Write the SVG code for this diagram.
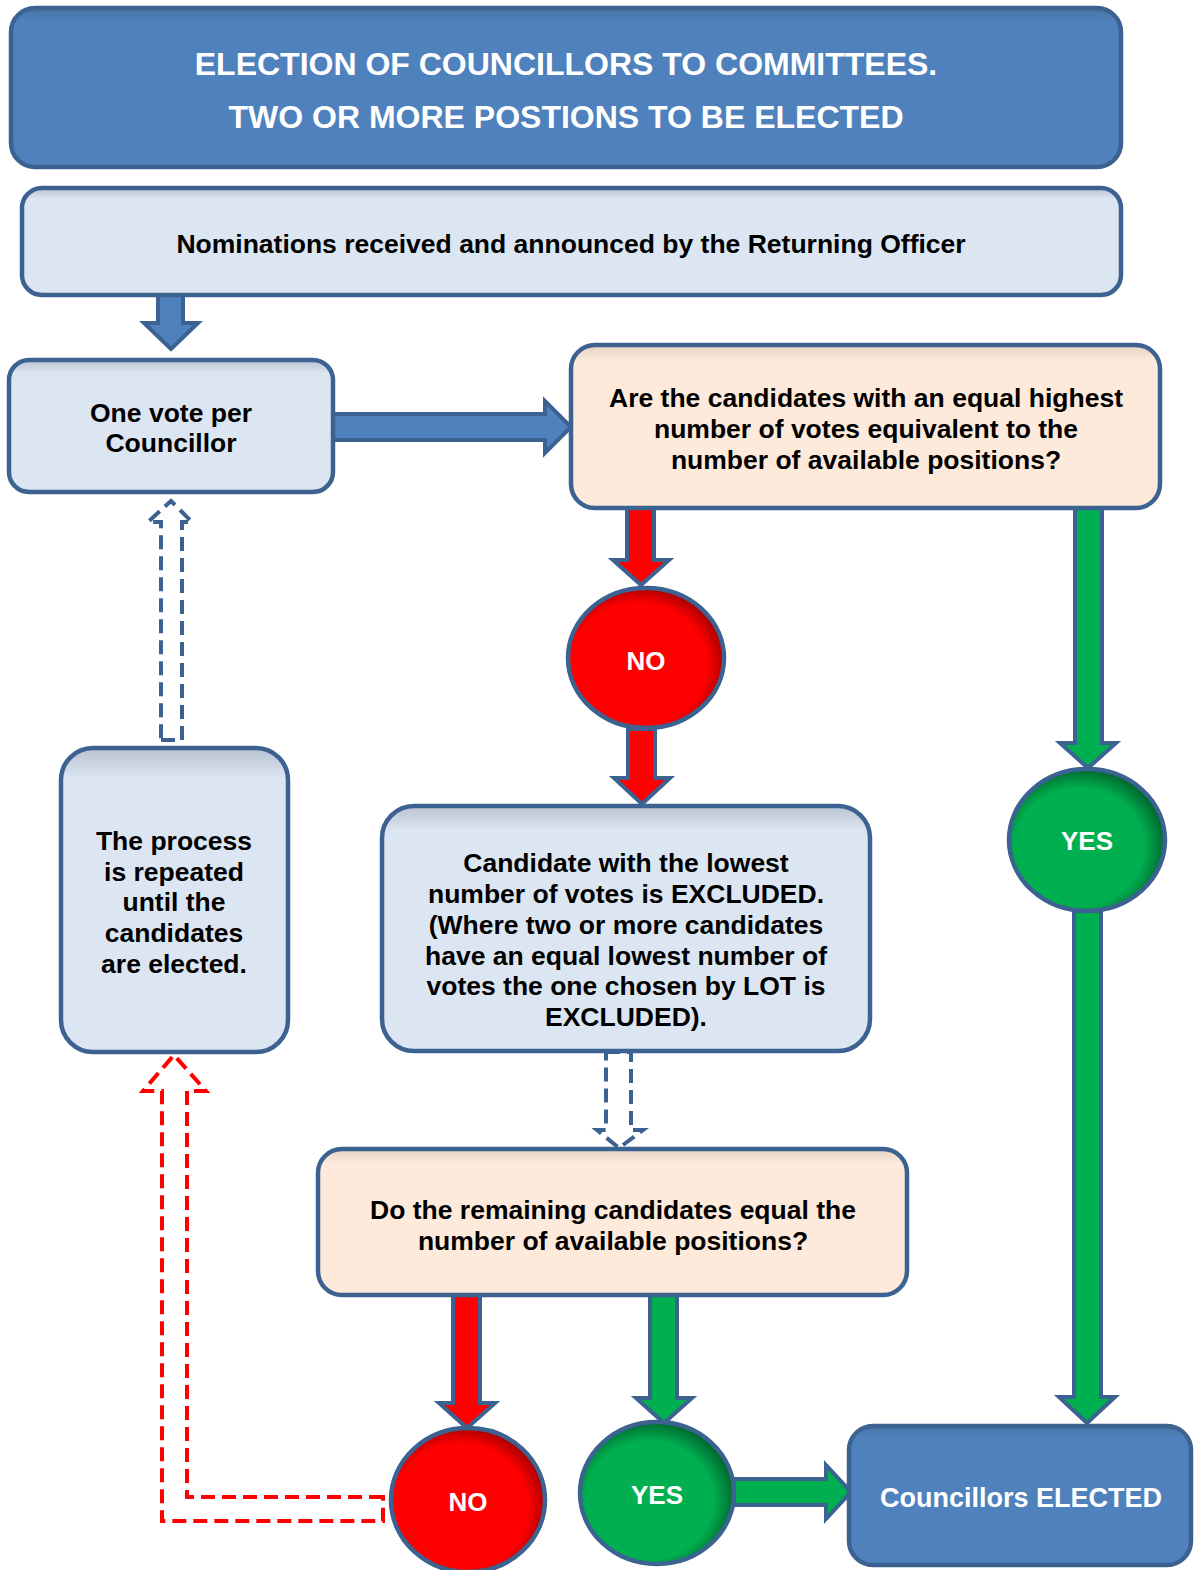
<svg xmlns="http://www.w3.org/2000/svg" width="1195" height="1570" viewBox="0 0 1195 1570">
<style>
  text { font-family: "Liberation Sans", Arial, sans-serif; font-weight: bold; text-anchor: middle; }
  .dark { fill: #000; font-size: 26.5px; }
  .white { fill: #fff; }
  .box { stroke: #3C6291; stroke-width: 4.5; }
  .solid { stroke: #3C6291; stroke-width: 4; stroke-linejoin: miter; }
  .dash { fill: none; stroke-width: 4; stroke-dasharray: 14 7; }
</style>
<defs>
  <linearGradient id="gBlue" x1="0" y1="0" x2="0" y2="1">
    <stop offset="0" stop-color="#46739F"/>
    <stop offset="0.08" stop-color="#4F81BD"/>
    <stop offset="1" stop-color="#4F81BD"/>
  </linearGradient>
  <linearGradient id="gLight" x1="0" y1="0" x2="0" y2="1">
    <stop offset="0" stop-color="#B9C3CF"/>
    <stop offset="0.1" stop-color="#DCE6F2"/>
    <stop offset="1" stop-color="#DCE6F2"/>
  </linearGradient>
  <linearGradient id="gPeach" x1="0" y1="0" x2="0" y2="1">
    <stop offset="0" stop-color="#E5D2C3"/>
    <stop offset="0.1" stop-color="#FDEADA"/>
    <stop offset="1" stop-color="#FDEADA"/>
  </linearGradient>
  <radialGradient id="gRed" cx="0.45" cy="0.55" r="0.55">
    <stop offset="0.8" stop-color="#FF0000"/>
    <stop offset="1" stop-color="#B00000"/>
  </radialGradient>
  <radialGradient id="gGreen" cx="0.45" cy="0.55" r="0.55">
    <stop offset="0.75" stop-color="#00B050"/>
    <stop offset="1" stop-color="#006B30"/>
  </radialGradient>
</defs>

<g id="connectors">
  <!-- nominations -> one vote -->
  <path class="solid" fill="#4F81BD" d="M158,295 L183,295 L183,323 L198,323 L171,349 L144,323 L158,323 Z"/>
  <!-- one vote -> question -->
  <path class="solid" fill="#4F81BD" d="M333,414 L545,414 L545,401 L571,427 L545,453 L545,440 L333,440 Z"/>
  <!-- question -> NO -->
  <path class="solid" fill="#FF0000" d="M627,508 L654,508 L654,560 L669,560 L641,585 L613,560 L627,560 Z"/>
  <!-- NO -> candidate -->
  <path class="solid" fill="#FF0000" d="M628,729 L655,729 L655,778 L670,778 L642,804 L614,778 L628,778 Z"/>
  <!-- question -> YES right -->
  <path class="solid" fill="#00B050" d="M1075,508 L1102,508 L1102,743 L1116,743 L1088,768 L1060,743 L1075,743 Z"/>
  <!-- YES right -> elected -->
  <path class="solid" fill="#00B050" d="M1074,911 L1101,911 L1101,1397 L1115,1397 L1087,1423 L1059,1397 L1074,1397 Z"/>
  <!-- candidate -> remaining (dashed) -->
  <path class="dash" stroke="#3C6291" d="M606,1052 L631,1052 L631,1130 L643,1130 L619,1148 L597,1130 L606,1130 Z"/>
  <!-- remaining -> NO bottom -->
  <path class="solid" fill="#FF0000" d="M453,1295 L480,1295 L480,1403 L495,1403 L467,1428 L439,1403 L453,1403 Z"/>
  <!-- remaining -> YES bottom -->
  <path class="solid" fill="#00B050" d="M650,1295 L677,1295 L677,1398 L692,1398 L664,1423 L636,1398 L650,1398 Z"/>
  <!-- YES bottom -> elected -->
  <path class="solid" fill="#00B050" d="M734,1479 L826,1479 L826,1465 L851,1492 L826,1519 L826,1505 L734,1505 Z"/>
  <!-- NO bottom -> process (red dashed) -->
  <path class="dash" stroke="#FF0000" d="M383,1497 L187,1497 L187,1091 L206,1091 L174,1055 L143,1091 L162,1091 L162,1521 L383,1521 Z"/>
  <!-- process -> one vote (blue dashed) -->
  <path class="dash" stroke="#3C6291" d="M161,740 L182,740 L182,522 L192,522 L171,501 L148,522 L161,522 Z"/>
</g>

<g id="title">
  <rect class="box" x="11" y="8" width="1110" height="159" rx="24" fill="url(#gBlue)"/>
  <text class="white" x="566" y="74.5" font-size="32">ELECTION OF COUNCILLORS TO COMMITTEES.</text>
  <text class="white" x="566" y="127.5" font-size="32">TWO OR MORE POSTIONS TO BE ELECTED</text>
</g>

<g id="nominations">
  <rect class="box" x="22" y="188" width="1099" height="107" rx="20" fill="url(#gLight)"/>
  <text class="dark" x="571" y="252.5">Nominations received and announced by the Returning Officer</text>
</g>

<g id="onevote">
  <rect class="box" x="9" y="360" width="324" height="132" rx="20" fill="url(#gLight)"/>
  <text class="dark" x="171" y="421.5">One vote per</text>
  <text class="dark" x="171" y="451.5">Councillor</text>
</g>

<g id="question">
  <rect class="box" x="571" y="345" width="589" height="163" rx="24" fill="url(#gPeach)"/>
  <text class="dark" x="866" y="406.5">Are the candidates with an equal highest</text>
  <text class="dark" x="866" y="437.5">number of votes equivalent to the</text>
  <text class="dark" x="866" y="468.5">number of available positions?</text>
</g>

<g id="no1">
  <ellipse class="box" cx="646" cy="658" rx="78" ry="70" fill="url(#gRed)"/>
  <text class="white" x="646" y="669.5" font-size="26">NO</text>
</g>

<g id="yes1">
  <ellipse class="box" cx="1087" cy="840" rx="78" ry="71" fill="url(#gGreen)"/>
  <text class="white" x="1087" y="849.5" font-size="26">YES</text>
</g>

<g id="candidate">
  <rect class="box" x="382" y="806" width="488" height="245" rx="32" fill="url(#gLight)"/>
  <text class="dark" x="626" y="871.5">Candidate with the lowest</text>
  <text class="dark" x="626" y="902.5">number of votes is EXCLUDED.</text>
  <text class="dark" x="626" y="933.5">(Where two or more candidates</text>
  <text class="dark" x="626" y="964.5">have an equal lowest number of</text>
  <text class="dark" x="626" y="994.5">votes the one chosen by LOT is</text>
  <text class="dark" x="626" y="1025.5">EXCLUDED).</text>
</g>

<g id="process">
  <rect class="box" x="61" y="748" width="227" height="304" rx="32" fill="url(#gLight)"/>
  <text class="dark" x="174" y="849.5">The process</text>
  <text class="dark" x="174" y="880.5">is repeated</text>
  <text class="dark" x="174" y="910.5">until the</text>
  <text class="dark" x="174" y="941.5">candidates</text>
  <text class="dark" x="174" y="972.5">are elected.</text>
</g>

<g id="remaining">
  <rect class="box" x="318" y="1149" width="589" height="146" rx="24" fill="url(#gPeach)"/>
  <text class="dark" x="613" y="1218.5">Do the remaining candidates equal the</text>
  <text class="dark" x="613" y="1249.5">number of available positions?</text>
</g>

<g id="no2">
  <ellipse class="box" cx="468" cy="1500" rx="77" ry="72" fill="url(#gRed)"/>
  <text class="white" x="468" y="1510.5" font-size="26">NO</text>
</g>

<g id="yes2">
  <ellipse class="box" cx="657" cy="1493" rx="77" ry="71" fill="url(#gGreen)"/>
  <text class="white" x="657" y="1503.5" font-size="26">YES</text>
</g>

<g id="elected">
  <rect class="box" x="849" y="1426" width="342" height="139" rx="24" fill="url(#gBlue)"/>
  <text class="white" x="1021" y="1507" font-size="27">Councillors ELECTED</text>
</g>
</svg>
